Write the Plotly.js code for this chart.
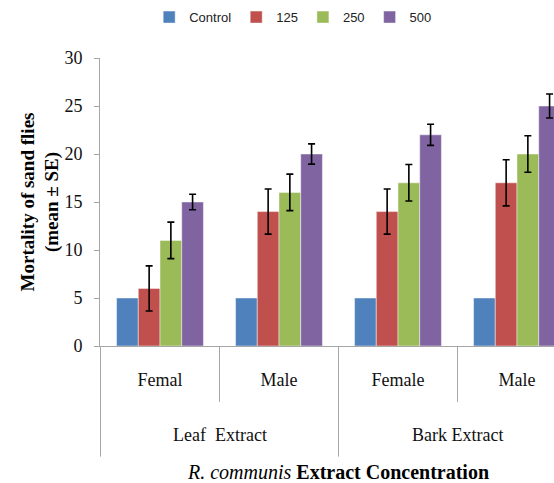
<!DOCTYPE html>
<html>
<head>
<meta charset="utf-8">
<script src="https://cdn.plot.ly/plotly-3.0.1.min.js"></script>
<style>
html,body{margin:0;padding:0;overflow:hidden;background:#fff;}
#chart{width:580px;height:483px;}
</style>
</head>
<body>
<div id="chart"></div>
<script>
// Data
var extracts = ['Leaf  Extract', 'Leaf  Extract', 'Bark Extract', 'Bark Extract'];
var sexes = ['Femal', 'Male', 'Female', 'Male'];
var seriesNames = ['Control', '125', '250', '500'];
var control = [5, 5, 5, 5];
var conc125 = [6, 14, 14, 17];
var conc250 = [11, 16, 17, 20];
var conc500 = [15, 20, 22, 25];
var err125 = [2.35, 2.35, 2.35, 2.4];
var err250 = [1.9, 1.9, 1.9, 1.9];
var err500 = [0.8, 1.05, 1.1, 1.25];
var colors = ['#4F81BD', '#C0504D', '#9BBB59', '#8064A2'];

var values = [control, conc125, conc250, conc500];
var errors = [null, err125, err250, err500];

// unique category keys (extract + sex)
var keys = sexes.map(function (s, i) { return extracts[i] + ' | ' + s; });

var traces = values.map(function (v, i) {
  var t = {
    type: 'bar',
    name: seriesNames[i],
    x: keys,
    y: v,
    marker: {color: colors[i], line: {color: 'rgba(255,255,255,0.45)', width: 1}}
  };
  if (errors[i]) {
    t.error_y = {type: 'data', array: errors[i], visible: true, color: '#000', thickness: 1.6, width: 3.5};
  }
  return t;
});

var gray = '#a6a6a6';
var shortY = -0.194, longY = -0.384;
var shapes = [];
for (var k = 0; k <= keys.length; k++) {
  var isGroupEdge = (k === 0 || k === keys.length || extracts[k] !== extracts[k - 1]);
  shapes.push({type: 'line', xref: 'x', yref: 'paper', x0: k - 0.5, x1: k - 0.5, y0: 0,
    y1: isGroupEdge ? longY : shortY, line: {color: gray, width: 1}});
}

// group (outer) labels
var serif = 'Liberation Serif, Times New Roman, serif';
var annotations = [];
var seen = {};
extracts.forEach(function (g, i) {
  if (seen[g]) return;
  var idx = [];
  extracts.forEach(function (h, j) { if (h === g) idx.push(j); });
  seen[g] = true;
  var c = idx.reduce(function (a, b) { return a + b; }, 0) / idx.length;
  annotations.push({xref: 'x', yref: 'paper', x: c, y: -0.308, yanchor: 'middle', xanchor: 'center',
    text: g, showarrow: false, font: {family: serif, size: 18, color: '#111'}});
});

var layout = {
  width: 580,
  height: 483,
  margin: {l: 100, r: 3, t: 57, b: 137},
  paper_bgcolor: '#fff',
  plot_bgcolor: '#fff',
  barmode: 'group',
  bargap: 0.27,
  bargroupgap: 0,
  showlegend: true,
  legend: {
    orientation: 'h', x: 0.405, xanchor: 'center', y: 1.138, yanchor: 'middle',
    font: {family: 'Liberation Sans, Arial, sans-serif', size: 13, color: '#222'},
    itemwidth: 30, traceorder: 'normal'
  },
  xaxis: {
    type: 'category',
    tickmode: 'array', tickvals: keys, ticktext: sexes,
    showline: true, linecolor: gray, linewidth: 1,
    ticks: '', showgrid: false,
    ticklabelstandoff: 17,
    tickfont: {family: serif, size: 18, color: '#111'},
    title: {text: '<i>R. communis</i> <b>Extract Concentration</b>', font: {family: serif, size: 20, color: '#000'}, standoff: 81}
  },
  yaxis: {
    range: [0, 30], dtick: 5, tick0: 0,
    showline: true, linecolor: gray, linewidth: 1,
    ticks: 'outside', ticklen: 5, tickcolor: gray,
    showgrid: false, zeroline: false,
    tickfont: {family: serif, size: 18, color: '#111'},
    ticklabelstandoff: 8,
    title: {text: '<b>Mortality of sand flies<br>(mean ± SE)</b>', font: {family: serif, size: 19, color: '#000'}, standoff: 0}
  },
  shapes: shapes,
  annotations: annotations
};

Plotly.newPlot('chart', traces, layout, {displayModeBar: false, staticPlot: true});
</script>
</body>
</html>
